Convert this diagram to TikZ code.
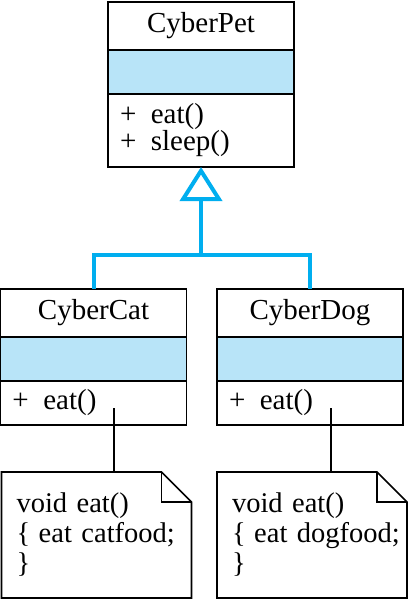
\documentclass[tikz,border=0pt]{standalone}
\usepackage{fontspec}
\setmainfont{Liberation Serif}
\usetikzlibrary{arrows.meta, positioning}

\definecolor{attrblue}{RGB}{184,228,248}
\definecolor{genblue}{RGB}{0,174,239}

\begin{document}
\begin{tikzpicture}[x=1pt, y=-1pt,
	every node/.style={font=\fontsize{29}{27}\selectfont, outer sep=0pt},
	classname/.style={draw, line width=1.6pt, minimum width=186pt, minimum height=48pt, inner sep=0pt},
	classattr/.style={draw, line width=1.6pt, fill=attrblue, minimum width=186pt, minimum height=44pt, inner sep=0pt},
	classmeth/.style={draw, line width=1.6pt, minimum width=186pt, text width=162pt, inner xsep=12pt, inner ysep=0pt, align=left},
	notebox/.style={minimum width=190pt, minimum height=126pt, text width=160pt, inner xsep=15pt, inner ysep=0pt, align=left, font=\fontsize{28.5}{30}\selectfont},
	link/.style={line width=1.6pt},
	gen/.style={line width=4pt, draw=genblue}]
	
	\useasboundingbox (0,0) rectangle (409,600);
	
	\begin{scope}
	\node[classname] (petname) at (201,26) {CyberPet};
	\node[classattr, below=0pt of petname] (petattr) {};
	\node[classmeth, minimum height=73pt, below=0pt of petattr] (petmeth) {+\enspace eat()\\+\enspace sleep()};
	\end{scope}
	
	\begin{scope}
	\node[classname] (catname) at (93.5,313) {CyberCat};
	\node[classattr, below=0pt of catname] (catattr) {};
	\node[classmeth, minimum height=44pt, below=0pt of catattr] (catmeth) {+\enspace eat()};
	
	\node[classname] (dogname) at (310,313) {CyberDog};
	\node[classattr, below=0pt of dogname] (dogattr) {};
	\node[classmeth, minimum height=44pt, below=0pt of dogattr] (dogmeth) {+\enspace eat()};
	\end{scope}
	
	\begin{scope}
	\node[notebox] (catnote) at (96.5,535) {void eat()\\\mbox{\{\hspace{0.3em}eat catfood;}\\\}};
	\node[notebox] (dognote) at (312,535) {void eat()\\\mbox{\{\hspace{0.3em}eat dogfood;}\\\}};
	\foreach \n in {catnote, dognote} {
		\draw[link] (\n.north west) -- ([xshift=-30pt]\n.north east) -- ([yshift=-30pt]\n.north east) -- (\n.south east) -- (\n.south west) -- cycle;
		\draw[link] ([xshift=-30pt]\n.north east) |- ([yshift=-30pt]\n.north east);
	}
	\end{scope}
	
	\coordinate (split) at (201,255);
	\coordinate (catlink) at (114,408);
	\coordinate (doglink) at (331,408);
	
	\draw[gen] (catname.north) |- (split) -| (dogname.north);
	\draw[gen, -{Triangle[open, width=42pt, length=34pt]}] (split) -- (petmeth.south);
	\draw[link] (catlink) -- (catlink |- catnote.north);
	\draw[link] (doglink) -- (doglink |- dognote.north);
	\end{tikzpicture}
\end{document}
